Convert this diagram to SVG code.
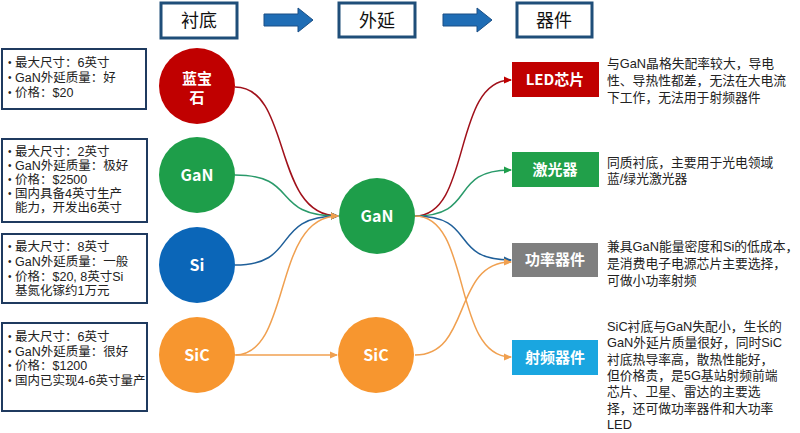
<svg xmlns="http://www.w3.org/2000/svg" width="800" height="433" viewBox="0 0 800 433">
<style>
.hdr{fill:#fff;stroke:#1F4E79;stroke-width:3}
.hdrt{font-family:"Noto Sans CJK SC","Liberation Sans",sans-serif;font-size:18px;fill:#111;text-anchor:middle}
.box{fill:#fff;stroke:#1F3A5F;stroke-width:2}
.bt{font-family:"Liberation Sans","Noto Sans CJK SC",sans-serif;font-size:12.5px;fill:#222}
.bu{font-family:"Liberation Sans",sans-serif;font-size:10px;fill:#222}
.cl{font-family:"Noto Sans CJK SC","Liberation Sans",sans-serif;font-size:16px;font-weight:bold;fill:#fff;text-anchor:middle}
.dl{font-family:"Noto Sans CJK SC","Liberation Sans",sans-serif;font-size:15px;font-weight:bold;fill:#fff;text-anchor:middle}
.rt{font-family:"Liberation Sans","Noto Sans CJK SC",sans-serif;font-size:12.8px;fill:#222}
.c{fill:none;stroke-width:1.5}
</style>
<defs>
<marker id="ar" markerWidth="8" markerHeight="8" refX="7" refY="4" orient="auto" markerUnits="userSpaceOnUse"><path d="M0,0.5 L8,4 L0,7.5 Z" fill="#C00000"/></marker>
<marker id="ag" markerWidth="8" markerHeight="8" refX="7" refY="4" orient="auto" markerUnits="userSpaceOnUse"><path d="M0,0.5 L8,4 L0,7.5 Z" fill="#1E9E4A"/></marker>
<marker id="ab" markerWidth="8" markerHeight="8" refX="7" refY="4" orient="auto" markerUnits="userSpaceOnUse"><path d="M0,0.5 L8,4 L0,7.5 Z" fill="#1F5F99"/></marker>
<marker id="ao" markerWidth="8" markerHeight="8" refX="7" refY="4" orient="auto" markerUnits="userSpaceOnUse"><path d="M0,0.5 L8,4 L0,7.5 Z" fill="#F0A050"/></marker>
</defs>

<g id="headers">
<g id="h-substrate"><rect class="hdr" x="161" y="3" width="76" height="35"/><text class="hdrt" x="199" y="27">衬底</text></g>
<g id="h-epi"><rect class="hdr" x="339" y="3" width="76" height="34"/><text class="hdrt" x="377" y="27">外延</text></g>
<g id="h-device"><rect class="hdr" x="517" y="3" width="75" height="34"/><text class="hdrt" x="554" y="27">器件</text></g>
<path d="M264,14 L298,14 L298,8 L313,20 L298,32 L298,26 L264,26 Z" fill="#1F6DB5" stroke="#1A4F85" stroke-width="1"/>
<path d="M443,14 L477,14 L477,8 L492,20 L477,32 L477,26 L443,26 Z" fill="#1F6DB5" stroke="#1A4F85" stroke-width="1"/>
</g>

<g id="connectors">
<path class="c" stroke="#A0101A" d="M235,87 C292,87 272,216 338,216" marker-end="url(#ar)"/>
<path class="c" stroke="#2A9A6A" d="M235,175 C300,175 270,216 338,216" marker-end="url(#ag)"/>
<path class="c" stroke="#1F5F99" d="M235,265 C300,265 270,216 338,216" marker-end="url(#ab)"/>
<path class="c" stroke="#F0A050" d="M235,355 C292,355 272,216 338,216" marker-end="url(#ao)"/>
<path class="c" stroke="#F0A050" d="M236,355 L337,355" marker-end="url(#ao)"/>
<path class="c" stroke="#A0101A" d="M415,216 C472,216 452,80 511,80" marker-end="url(#ar)"/>
<path class="c" stroke="#2A9A6A" d="M415,216 C478,216 448,170 511,170" marker-end="url(#ag)"/>
<path class="c" stroke="#1F5F99" d="M415,216 C478,216 448,260 511,260" marker-end="url(#ab)"/>
<path class="c" stroke="#F0A050" d="M415,216 C472,216 452,357 511,357" marker-end="url(#ao)"/>
<path class="c" stroke="#F0A050" d="M415,355 C472,355 452,262 511,262" marker-end="url(#ao)"/>
</g>

<g id="box-sapphire"><rect class="box" x="2" y="49" width="144" height="60"/>
<text class="bu" x="8" y="66">•</text><text class="bt" x="15" y="67">最大尺寸：6英寸</text>
<text class="bu" x="8" y="81">•</text><text class="bt" x="15" y="82">GaN外延质量：好</text>
<text class="bu" x="8" y="96">•</text><text class="bt" x="15" y="97">价格：$20</text></g>
<g id="box-gan"><rect class="box" x="2" y="139" width="145" height="83"/>
<text class="bu" x="8" y="155">•</text><text class="bt" x="15" y="156">最大尺寸：2英寸</text>
<text class="bu" x="8" y="169">•</text><text class="bt" x="15" y="170">GaN外延质量：极好</text>
<text class="bu" x="8" y="183">•</text><text class="bt" x="15" y="184">价格：$2500</text>
<text class="bu" x="8" y="197">•</text><text class="bt" x="15" y="198">国内具备4英寸生产</text>
<text class="bt" x="15" y="212">能力，开发出6英寸</text></g>
<g id="box-si"><rect class="box" x="2" y="234" width="145" height="69"/>
<text class="bu" x="8" y="250">•</text><text class="bt" x="15" y="251">最大尺寸：8英寸</text>
<text class="bu" x="8" y="265">•</text><text class="bt" x="15" y="266">GaN外延质量：一般</text>
<text class="bu" x="8" y="280">•</text><text class="bt" x="15" y="281">价格：$20, 8英寸Si</text>
<text class="bt" x="15" y="295">基氮化镓约1万元</text></g>
<g id="box-sic"><rect class="box" x="2" y="323" width="145" height="88"/>
<text class="bu" x="8" y="340">•</text><text class="bt" x="15" y="341">最大尺寸：6英寸</text>
<text class="bu" x="8" y="355">•</text><text class="bt" x="15" y="356">GaN外延质量：很好</text>
<text class="bu" x="8" y="369">•</text><text class="bt" x="15" y="370">价格：$1200</text>
<text class="bu" x="8" y="384">•</text><text class="bt" x="15" y="385">国内已实现4-6英寸量产</text></g>

<g id="c-sapphire"><circle cx="197" cy="86" r="38" fill="#C00000"/><text class="cl" style="font-size:15px" x="197" y="84">蓝宝</text><text class="cl" style="font-size:15px" x="197" y="103">石</text></g>
<g id="c-gan"><circle cx="197" cy="175" r="38" fill="#1E9E4A"/><text class="cl" x="197" y="181">GaN</text></g>
<g id="c-si"><circle cx="197" cy="265" r="38" fill="#0B66B8"/><text class="cl" x="197" y="271">Si</text></g>
<g id="c-sic"><circle cx="197" cy="355" r="38" fill="#F7962F"/><text class="cl" x="197" y="361">SiC</text></g>
<g id="c-gan-epi"><circle cx="377" cy="216" r="38" fill="#1E9E4A"/><text class="cl" x="377" y="222">GaN</text></g>
<g id="c-sic-epi"><circle cx="376" cy="355" r="38" fill="#F7962F"/><text class="cl" x="376" y="361">SiC</text></g>

<g id="d-led"><rect x="512" y="62" width="87" height="35" fill="#C00000"/><text class="dl" x="555" y="85">LED芯片</text></g>
<g id="d-laser"><rect x="512" y="152" width="87" height="35" fill="#21A04A"/><text class="dl" x="555" y="175">激光器</text></g>
<g id="d-power"><rect x="512" y="243" width="86" height="34" fill="#7F7F7F"/><text class="dl" x="555" y="265">功率器件</text></g>
<g id="d-rf"><rect x="512" y="340" width="86" height="35" fill="#1AA6E0"/><text class="dl" x="555" y="363">射频器件</text></g>

<g id="notes">
<text class="rt" x="607" y="68">与GaN晶格失配率较大，导电</text>
<text class="rt" x="607" y="85">性、导热性都差，无法在大电流</text>
<text class="rt" x="607" y="102">下工作，无法用于射频器件</text>
<text class="rt" x="607" y="167">同质衬底，主要用于光电领域</text>
<text class="rt" x="607" y="183">蓝/绿光激光器</text>
<text class="rt" x="607" y="251">兼具GaN能量密度和Si的低成本，</text>
<text class="rt" x="607" y="268">是消费电子电源芯片主要选择，</text>
<text class="rt" x="607" y="285">可做小功率射频</text>
<text class="rt" x="607" y="331">SiC衬底与GaN失配小，生长的</text>
<text class="rt" x="607" y="347">GaN外延片质量很好，同时SiC</text>
<text class="rt" x="607" y="364">衬底热导率高，散热性能好，</text>
<text class="rt" x="607" y="380">但价格贵，是5G基站射频前端</text>
<text class="rt" x="607" y="396">芯片、卫星、雷达的主要选</text>
<text class="rt" x="607" y="413">择，还可做功率器件和大功率</text>
<text class="rt" x="607" y="429">LED</text>
</g>
</svg>
